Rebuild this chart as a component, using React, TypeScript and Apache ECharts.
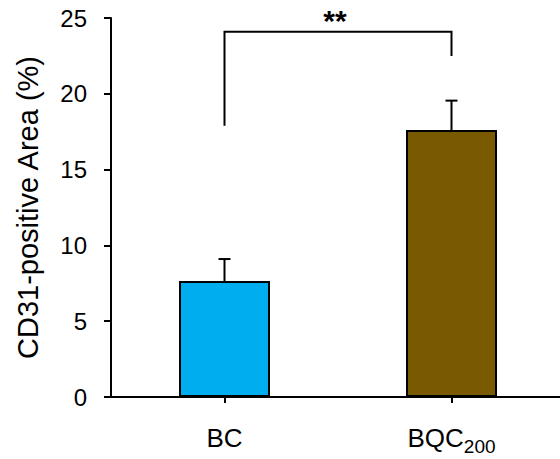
import React, { useEffect, useRef } from 'react';
import * as echarts from 'echarts';

const categories = ['BC', 'BQC200'];
const means = [7.65, 17.61];
const errors = [1.45, 1.94];
const barColors = ['#00AEEF', '#7A5A00'];
const yTicks = [0, 5, 10, 15, 20, 25];
// bracket: left foot, top, right foot (in y units)
const bracketLevels = [17.9, 24.1, 22.5];
const bracketLabel = '**';

const FONT = 'Liberation Sans, Arial, sans-serif';

export default function App() {
  const ref = useRef<HTMLDivElement>(null);
  useEffect(() => {
    document.body.style.margin = '0';
    const chart = echarts.init(ref.current!, null, { renderer: 'svg' });
    const option: any = {
      animation: false,
      backgroundColor: '#ffffff',
      grid: { left: 111, width: 454, top: 18, bottom: 62, containLabel: false, outerBoundsMode: 'none' },
      xAxis: {
        type: 'category',
        data: categories,
        boundaryGap: true,
        axisLine: { lineStyle: { color: '#000', width: 2 } },
        axisTick: { show: true, alignWithLabel: true, length: 6, lineStyle: { color: '#000', width: 2 } },
        axisLabel: {
          margin: 28,
          color: '#000',
          fontFamily: FONT,
          formatter: (v: string) => (v === 'BQC200' ? '{a|BQC}{s|200}' : '{a|' + v + '}'),
          rich: {
            a: { fontSize: 26, fontFamily: FONT, color: '#000', padding: [0, 0, 5, 0], verticalAlign: 'bottom' },
            s: { fontSize: 19, fontFamily: FONT, color: '#000', verticalAlign: 'bottom' },
          },
        },
        splitLine: { show: false },
      },
      yAxis: {
        type: 'value',
        min: yTicks[0],
        max: yTicks[yTicks.length - 1],
        interval: yTicks[1] - yTicks[0],
        name: 'CD31-positive Area (%)',
        nameLocation: 'middle',
        nameGap: 69,
        nameRotate: 90,
        nameTextStyle: { fontSize: 29, fontFamily: FONT, color: '#000' },
        axisLine: { show: true, lineStyle: { color: '#000', width: 2 } },
        axisTick: { show: true, length: 7, lineStyle: { color: '#000', width: 2 } },
        axisLabel: { margin: 24, fontSize: 24, fontFamily: FONT, color: '#000' },
        splitLine: { show: false },
      },
      series: [
        {
          type: 'bar',
          barWidth: 91,
          data: means.map((v, i) => ({ value: v, itemStyle: { color: barColors[i] } })),
          itemStyle: { borderColor: '#000', borderWidth: 2 },
          z: 2,
        },
        {
          type: 'custom',
          z: 3,
          clip: false,
          data: categories.map((_, i) => [i, means[i], errors[i]]),
          encode: { x: 0, y: 1 },
          renderItem: (params: any, api: any) => {
            const c = api.value(0);
            const m = api.value(1);
            const e = api.value(2);
            const p0 = api.coord([c, m]);
            const p1 = api.coord([c, m + e]);
            const half = 6;
            const st = { stroke: '#000', lineWidth: 2 };
            return {
              type: 'group',
              children: [
                { type: 'line', shape: { x1: p0[0], y1: p0[1], x2: p1[0], y2: p1[1] }, style: st },
                { type: 'line', shape: { x1: p1[0] - half, y1: p1[1], x2: p1[0] + half, y2: p1[1] }, style: st },
              ],
            };
          },
        },
        {
          type: 'custom',
          z: 3,
          clip: false,
          data: [[0, bracketLevels[1], 1, bracketLevels[0], bracketLevels[2]]],
          encode: { x: 0, y: 1 },
          renderItem: (params: any, api: any) => {
            const a = api.value(0);
            const top = api.value(1);
            const b = api.value(2);
            const lf = api.value(3);
            const rf = api.value(4);
            const pA = api.coord([a, lf]);
            const pAt = api.coord([a, top]);
            const pBt = api.coord([b, top]);
            const pB = api.coord([b, rf]);
            return {
              type: 'group',
              children: [
                {
                  type: 'polyline',
                  shape: { points: [pA, pAt, pBt, pB] },
                  style: { stroke: '#000', lineWidth: 2, fill: 'none' },
                },
                {
                  type: 'text',
                  x: (pAt[0] + pBt[0]) / 2 - 3,
                  y: pAt[1] - 11,
                  style: {
                    text: bracketLabel,
                    fontSize: 30,
                    fontWeight: 'bold',
                    fontFamily: FONT,
                    fill: '#000',
                    align: 'center',
                    verticalAlign: 'middle',
                  },
                },
              ],
            };
          },
        },
      ],
    };
    chart.setOption(option);
    return () => chart.dispose();
  }, []);
  return <div ref={ref} style={{ width: 560, height: 459, position: 'fixed', left: 0, top: 0 }} />;
}
